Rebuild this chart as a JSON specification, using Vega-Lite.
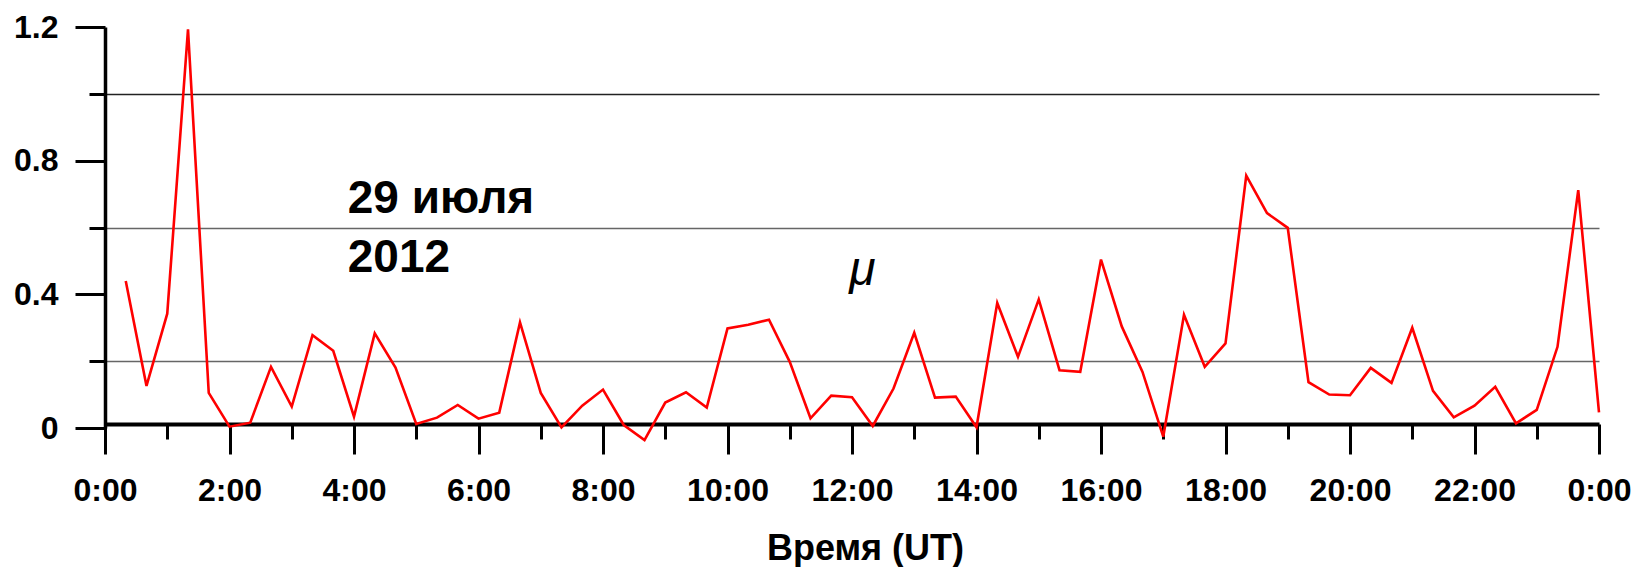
{
  "$schema": "https://vega.github.io/schema/vega-lite/v6.json",
  "autosize": "none",
  "padding": {"left": 105, "top": 27, "right": 38, "bottom": 139},
  "width": 1494,
  "height": 401,
  "config": {"view": {"stroke": null}, "font": "Liberation Sans"},
  "layer": [
    {
      "data": {"values": [
        {"minute": 20, "value": 0.44}, {"minute": 40, "value": 0.126}, {"minute": 60, "value": 0.342},
        {"minute": 80, "value": 1.193}, {"minute": 100, "value": 0.105}, {"minute": 120, "value": 0.004},
        {"minute": 140, "value": 0.016}, {"minute": 160, "value": 0.183}, {"minute": 180, "value": 0.064},
        {"minute": 200, "value": 0.278}, {"minute": 220, "value": 0.231}, {"minute": 240, "value": 0.034},
        {"minute": 260, "value": 0.283}, {"minute": 280, "value": 0.181}, {"minute": 300, "value": 0.012},
        {"minute": 320, "value": 0.031}, {"minute": 340, "value": 0.069}, {"minute": 360, "value": 0.028},
        {"minute": 380, "value": 0.046}, {"minute": 400, "value": 0.316}, {"minute": 420, "value": 0.105},
        {"minute": 440, "value": 0.002}, {"minute": 460, "value": 0.067}, {"minute": 480, "value": 0.115},
        {"minute": 500, "value": 0.009}, {"minute": 520, "value": -0.036}, {"minute": 540, "value": 0.076},
        {"minute": 560, "value": 0.107}, {"minute": 580, "value": 0.061}, {"minute": 600, "value": 0.298},
        {"minute": 620, "value": 0.309}, {"minute": 640, "value": 0.324}, {"minute": 660, "value": 0.198},
        {"minute": 680, "value": 0.029}, {"minute": 700, "value": 0.097}, {"minute": 720, "value": 0.092},
        {"minute": 740, "value": 0.006}, {"minute": 760, "value": 0.118}, {"minute": 780, "value": 0.285},
        {"minute": 800, "value": 0.091}, {"minute": 820, "value": 0.094}, {"minute": 840, "value": 0.002},
        {"minute": 860, "value": 0.374}, {"minute": 880, "value": 0.213}, {"minute": 900, "value": 0.385},
        {"minute": 920, "value": 0.173}, {"minute": 940, "value": 0.168}, {"minute": 960, "value": 0.504},
        {"minute": 980, "value": 0.304}, {"minute": 1000, "value": 0.168}, {"minute": 1020, "value": -0.026},
        {"minute": 1040, "value": 0.339}, {"minute": 1060, "value": 0.183}, {"minute": 1080, "value": 0.253},
        {"minute": 1100, "value": 0.755}, {"minute": 1120, "value": 0.643}, {"minute": 1140, "value": 0.599},
        {"minute": 1160, "value": 0.137}, {"minute": 1180, "value": 0.1}, {"minute": 1200, "value": 0.098},
        {"minute": 1220, "value": 0.18}, {"minute": 1240, "value": 0.135}, {"minute": 1260, "value": 0.3},
        {"minute": 1280, "value": 0.111}, {"minute": 1300, "value": 0.032}, {"minute": 1320, "value": 0.067},
        {"minute": 1340, "value": 0.123}, {"minute": 1360, "value": 0.014}, {"minute": 1380, "value": 0.054},
        {"minute": 1400, "value": 0.243}, {"minute": 1420, "value": 0.712}, {"minute": 1440, "value": 0.047}
      ]},
      "mark": {"type": "line", "color": "#ff0000", "strokeWidth": 2.6, "clip": false},
      "encoding": {
        "x": {
          "field": "minute", "type": "quantitative",
          "scale": {"domain": [0, 1440], "nice": false, "zero": false},
          "axis": {
            "title": "Время (UT)",
            "titleFont": "Liberation Sans", "titleFontSize": 36, "titleFontWeight": "bold", "titleColor": "#000",
            "titleBaseline": "alphabetic", "titleY": 135, "titleX": 760, "titleAlign": "center",
            "values": [0,60,120,180,240,300,360,420,480,540,600,660,720,780,840,900,960,1020,1080,1140,1200,1260,1320,1380,1440],
            "labelExpr": "datum.value % 120 == 0 ? (floor(datum.value/60) % 24) + ':00' : ''",
            "labelFont": "Liberation Sans", "labelFontSize": 32, "labelFontWeight": "bold", "labelColor": "#000",
            "labelPadding": 21, "labelOverlap": false, "labelFlush": false, "labelBound": false,
            "offset": -4,
            "domainColor": "#000", "domainWidth": 4,
            "tickColor": "#000", "tickWidth": 3,
            "tickSize": {"condition": {"test": "datum.value % 120 != 0", "value": 15}, "value": 30},
            "grid": false
          }
        },
        "y": {
          "field": "value", "type": "quantitative",
          "scale": {"domain": [0, 1.2], "nice": false, "zero": false},
          "axis": {
            "title": null,
            "values": [0, 0.2, 0.4, 0.6, 0.8, 1.0, 1.2],
            "labelExpr": "round(datum.value*5) % 2 == 1 ? '' : (datum.value == 0 ? '0' : format(datum.value, '.1f'))",
            "labelFont": "Liberation Sans", "labelFontSize": 32, "labelFontWeight": "bold", "labelColor": "#000",
            "labelPadding": 17, "labelOverlap": false, "labelFlush": false, "labelBound": false,
            "domainColor": "#000", "domainWidth": 3.5,
            "tickColor": "#000", "tickWidth": 3,
            "tickSize": {"condition": {"test": "round(datum.value*5) % 2 == 1", "value": 16}, "value": 30},
            "grid": true,
            "gridWidth": 1.3,
            "gridColor": {"condition": {"test": "datum.value > 0.9", "value": "#222"}, "value": "#666"},
            "gridOpacity": {"condition": {"test": "round(datum.value*5) % 2 == 1", "value": 1}, "value": 0}
          }
        }
      }
    },
    {
      "data": {"values": [
        {"minute": 234, "value": 0.642, "label": "29 июля"},
        {"minute": 234, "value": 0.466, "label": "2012"}
      ]},
      "mark": {"type": "text", "align": "left", "baseline": "alphabetic", "font": "Liberation Sans", "fontSize": 46, "fontWeight": "bold", "color": "#000"},
      "encoding": {
        "x": {"field": "minute", "type": "quantitative"},
        "y": {"field": "value", "type": "quantitative"},
        "text": {"field": "label"}
      }
    },
    {
      "data": {"values": [
        {"minute": 730, "value": 0.427, "label": "μ"}
      ]},
      "mark": {"type": "text", "align": "center", "baseline": "alphabetic", "font": "Liberation Sans", "fontSize": 48, "fontStyle": "italic", "color": "#000"},
      "encoding": {
        "x": {"field": "minute", "type": "quantitative"},
        "y": {"field": "value", "type": "quantitative"},
        "text": {"field": "label"}
      }
    }
  ]
}
